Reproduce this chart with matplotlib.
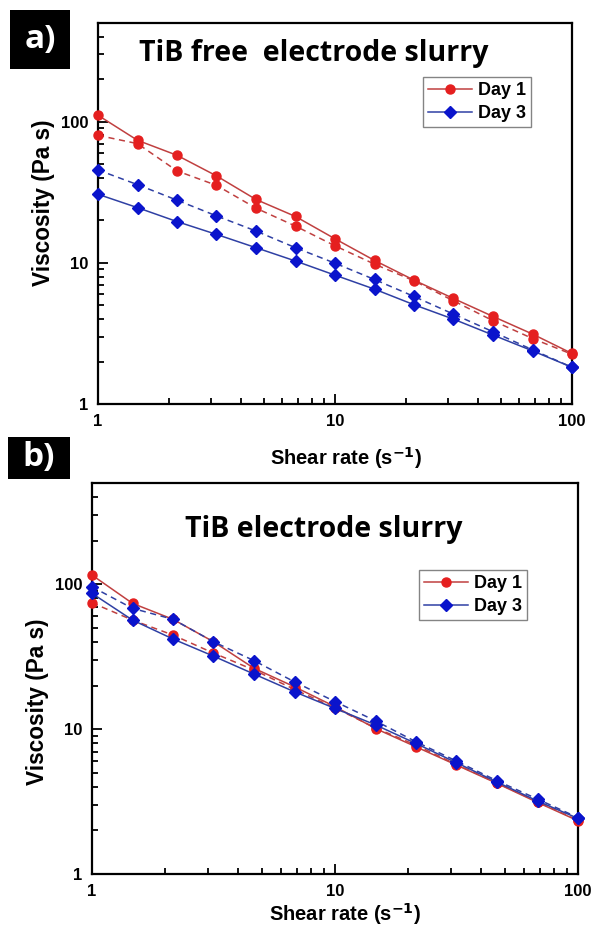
import numpy as np
import matplotlib
matplotlib.use("Agg")
import matplotlib.pyplot as plt
from matplotlib.patches import Rectangle
from matplotlib.ticker import LogLocator, NullFormatter, FixedLocator, FixedFormatter

# ---------------- data ----------------
shear_rate = [1.0, 1.468, 2.154, 3.162, 4.642, 6.813, 10.0, 14.68, 21.54, 31.62, 46.42, 68.13, 100.0]

# Panel a: TiB free electrode slurry
a_day1_solid = [111, 73.8, 57.8, 41.3, 28.1, 21.3, 14.8, 10.4, 7.54, 5.59, 4.17, 3.13, 2.28]
a_day1_dash = [80, 69.9, 44.8, 35.4, 24.4, 18.2, 13.2, 9.79, 7.46, 5.38, 3.89, 2.91, 2.25]
a_day3_dash = [45.5, 35.8, 27.8, 21.5, 16.8, 12.8, 9.94, 7.62, 5.78, 4.33, 3.25, 2.42, 1.82]
a_day3_solid = [30.6, 24.6, 19.6, 15.9, 12.8, 10.3, 8.18, 6.51, 5.05, 3.99, 3.08, 2.38, 1.82]

# Panel b: TiB electrode slurry
b_day1_solid = [115.7, 73.8, 57.3, 40.1, 26.3, 19.6, 14.3, 10.1, 7.55, 5.65, 4.22, 3.12, 2.33]
b_day1_dash = [74.5, 56.6, 44.6, 33.5, 25.6, 18.8, 14.0, 10.2, 7.75, 5.70, 4.25, 3.15, 2.35]
b_day3_dash = [96, 68.2, 57.3, 40.1, 29.7, 21.2, 15.5, 11.4, 8.18, 6.02, 4.40, 3.29, 2.45]
b_day3_solid = [86.5, 56.6, 41.9, 31.9, 24.0, 18.1, 13.9, 10.7, 7.96, 5.86, 4.31, 3.19, 2.42]

panel_titles = ["TiB free  electrode slurry", "TiB electrode slurry"]
panel_tags = ["a)", "b)"]
legend_labels = ["Day 1", "Day 3"]
xtick_vals = [1, 10, 100]
xtick_labels = ["1", "10", "100"]
ytick_vals = [1, 10, 100]
ytick_labels = ["1", "10", "100"]

# ---------------- style ----------------
W, H = 595, 934
fig = plt.figure(figsize=(W / 100, H / 100), dpi=100)

RED_LINE = "#c04040"
RED_MK = "#e51f1f"
BLUE_LINE = "#2f40a4"
BLUE_MK = "#0a14cc"
lab_font = dict(family="Liberation Sans", weight="bold")
title_font = dict(family="Open Sans", weight="bold")


def px_axes(l, t, r, b):
    return fig.add_axes([l / W, 1 - b / H, (r - l) / W, (b - t) / H])


def style_axes(ax, xpad, ypad, xlab_x, ylab_y):
    ax.set_xscale("log")
    ax.set_yscale("log")
    ax.set_xlim(1, 100)
    ax.set_ylim(1, 500)
    for s in ax.spines.values():
        s.set_linewidth(1.6)
        s.set_color("black")
    ax.xaxis.set_major_locator(FixedLocator(xtick_vals))
    ax.xaxis.set_major_formatter(FixedFormatter(xtick_labels))
    ax.yaxis.set_major_locator(FixedLocator(ytick_vals))
    ax.yaxis.set_major_formatter(FixedFormatter(ytick_labels))
    ax.xaxis.set_minor_locator(LogLocator(base=10, subs=np.arange(2, 10)))
    ax.yaxis.set_minor_locator(LogLocator(base=10, subs=np.arange(2, 10)))
    ax.xaxis.set_minor_formatter(NullFormatter())
    ax.yaxis.set_minor_formatter(NullFormatter())
    ax.tick_params(which="both", direction="in", top=False, right=False, width=1.3)
    ax.tick_params(which="major", length=7, pad=7)
    ax.tick_params(which="minor", length=4)
    for lab in ax.get_xticklabels() + ax.get_yticklabels():
        lab.set_fontfamily("Liberation Sans")
        lab.set_fontweight("bold")
        lab.set_fontsize(12)
    ax.set_xlabel("Shear rate (s$^{\\mathbf{-1}}$)", fontsize=14.5, labelpad=xpad, **lab_font)
    ax.set_ylabel("Viscosity (Pa s)", fontsize=16.3, labelpad=ypad, **lab_font)
    ax.xaxis.label.set_x(xlab_x)
    ax.yaxis.label.set_y(ylab_y)


def draw(ax, d1s, d1d, d3d, d3s):
    l1, = ax.plot(shear_rate, d1s, "-", color=RED_LINE, lw=1.1, marker="o", ms=6.5,
                  mfc=RED_MK, mec=RED_MK, label=legend_labels[0], clip_on=False, zorder=3)
    ax.plot(shear_rate, d1d, "--", color=RED_LINE, lw=1.1, marker="o", ms=6.5,
            mfc=RED_MK, mec=RED_MK, dashes=(4, 3), clip_on=False, zorder=3)
    ax.plot(shear_rate, d3d, "--", color=BLUE_LINE, lw=1.1, marker="D", ms=6.2,
            mfc=BLUE_MK, mec=BLUE_MK, dashes=(4, 3), clip_on=False, zorder=4)
    l3, = ax.plot(shear_rate, d3s, "-", color=BLUE_LINE, lw=1.1, marker="D", ms=6.2,
                  mfc=BLUE_MK, mec=BLUE_MK, label=legend_labels[1], clip_on=False, zorder=4)
    return l1, l3


def add_legend(ax, handles, x, y):
    leg = ax.legend(handles=handles, loc="upper left", bbox_to_anchor=(x, y), borderaxespad=0,
                    frameon=True, fancybox=False, edgecolor="#666666", handlelength=2.4,
                    handletextpad=0.35, borderpad=0.3, labelspacing=0.3,
                    prop=dict(family="Liberation Sans", weight="bold", size=13))
    leg.get_frame().set_linewidth(1.0)


# Panel a
ax_a = px_axes(98, 23, 572, 404)
h = draw(ax_a, a_day1_solid, a_day1_dash, a_day3_dash, a_day3_solid)
style_axes(ax_a, xpad=12, ypad=4, xlab_x=(346 - 98) / 474, ylab_y=(404 - 203) / 381)
add_legend(ax_a, h, (423 - 98) / 474, 1 - (77 - 23) / 381)
ax_a.text((139 - 98) / 474, 1 - (53 - 23) / 381, panel_titles[0], transform=ax_a.transAxes,
          ha="left", va="center", fontsize=20.5, **title_font)

# Panel b
ax_b = px_axes(92, 483, 578, 874)
h = draw(ax_b, b_day1_solid, b_day1_dash, b_day3_dash, b_day3_solid)
style_axes(ax_b, xpad=2, ypad=4, xlab_x=(345 - 92) / 486, ylab_y=(874 - 702) / 391)
add_legend(ax_b, h, (419 - 92) / 486, 1 - (570 - 483) / 391)
ax_b.text((324 - 92) / 486, 1 - (530 - 483) / 391, panel_titles[1], transform=ax_b.transAxes,
          ha="center", va="center", fontsize=20.5, **title_font)

# Panel tags
for (l, t, r, b), tag in zip([(10, 10, 70, 69), (8, 437, 70, 479)], panel_tags):
    fig.patches.append(Rectangle((l / W, 1 - b / H), (r - l) / W, (b - t) / H,
                                 transform=fig.transFigure, facecolor="black", edgecolor="none"))
    fig.text((l + r) / 2 / W, 1 - (t + b) / 2 / H, tag, color="white", ha="center", va="center",
             fontsize=24, **title_font)

fig.savefig("out.png", dpi=100)
